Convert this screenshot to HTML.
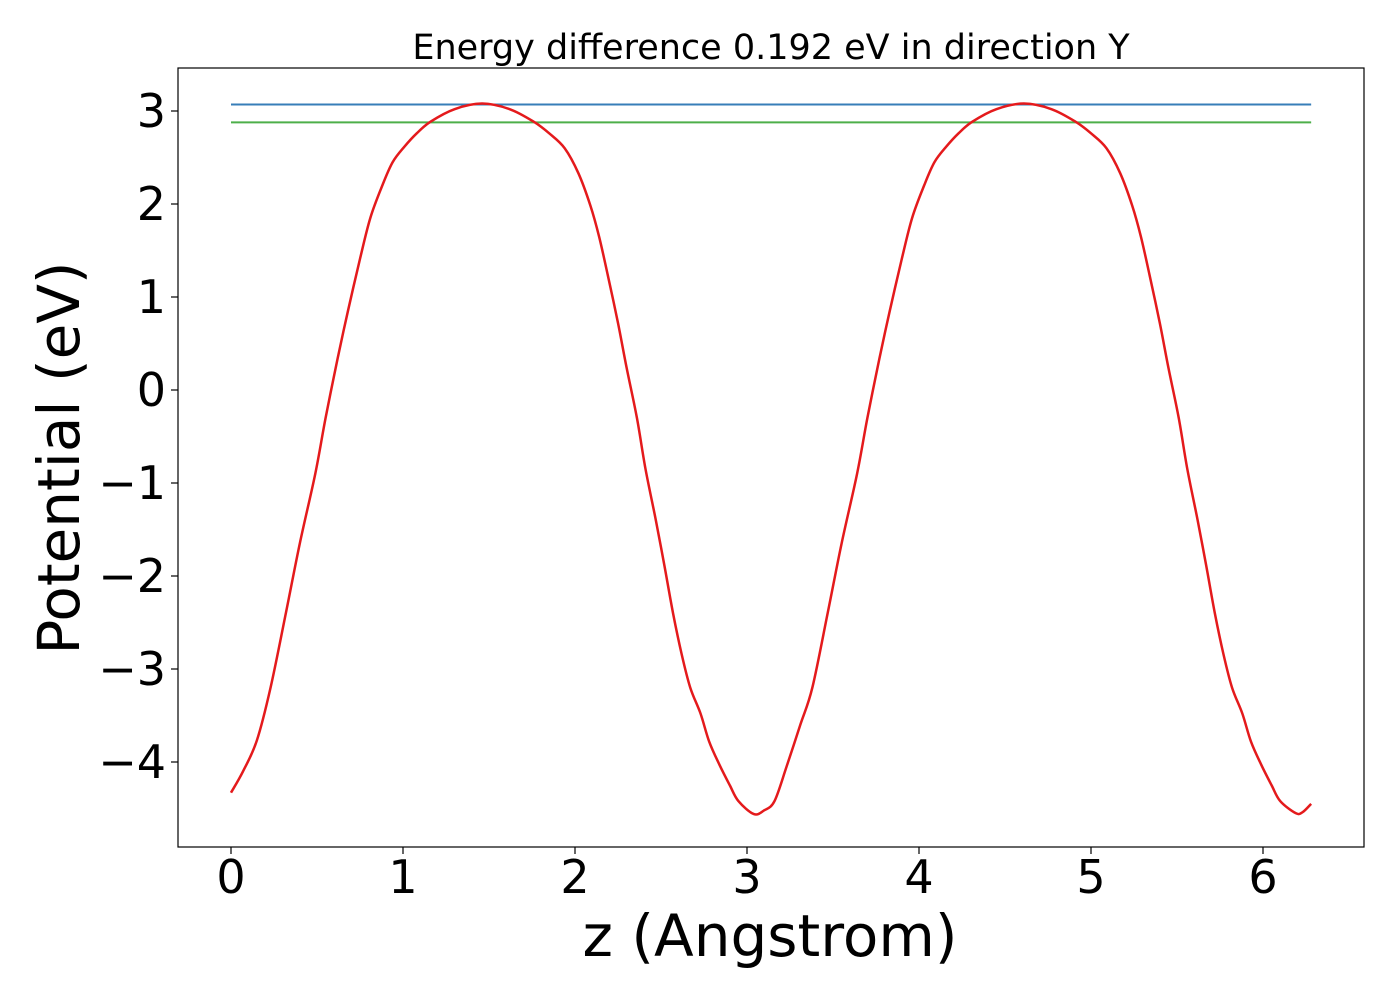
<!DOCTYPE html>
<html><head><meta charset="utf-8"><style>
body{margin:0;background:#fff}
svg text{font-family:"DejaVu Sans","Liberation Sans",sans-serif;fill:#000}
</style></head><body>
<svg width="1400" height="1000" xmlns="http://www.w3.org/2000/svg">
<g id="plot"></g>
</svg>
<script>
const xs=[0,0.07,0.15,0.23,0.32,0.4,0.49,0.55,0.62,0.68,0.75,0.81,0.88,0.94,1.01,1.08,1.16,1.3,1.46,1.62,1.76,1.85,1.94,2.02,2.09,2.14,2.19,2.25,2.30,2.36,2.41,2.47,2.52,2.57,2.62,2.67,2.73,2.78,2.84,2.9,2.95,3.04,3.1,3.16,3.23,3.31,3.38,3.47,3.55,3.64,3.7,3.77,3.83,3.9,3.96,4.03,4.09,4.16,4.23,4.31,4.45,4.61,4.77,4.91,5.0,5.09,5.17,5.24,5.29,5.34,5.4,5.45,5.51,5.56,5.62,5.67,5.72,5.77,5.82,5.88,5.93,5.99,6.05,6.1,6.19,6.23,6.28];
const ys=[-4.33,-4.1,-3.77,-3.2,-2.39,-1.65,-0.9,-0.3,0.34,0.85,1.41,1.85,2.2,2.45,2.62,2.76,2.885,3.02,3.08,3.02,2.885,2.76,2.6,2.33,1.98,1.65,1.24,0.72,0.24,-0.3,-0.85,-1.4,-1.89,-2.4,-2.84,-3.2,-3.48,-3.78,-4.03,-4.25,-4.42,-4.56,-4.52,-4.42,-4.05,-3.6,-3.2,-2.39,-1.65,-0.9,-0.3,0.34,0.85,1.41,1.85,2.2,2.45,2.62,2.76,2.885,3.02,3.08,3.02,2.885,2.76,2.6,2.33,1.98,1.65,1.24,0.72,0.24,-0.3,-0.85,-1.4,-1.89,-2.4,-2.84,-3.2,-3.48,-3.78,-4.03,-4.25,-4.42,-4.55,-4.54,-4.45];
const blueLevel=[3.07];
const greenLevel=[2.878];
const xTicks=[0,1,2,3,4,5,6];
const yTicks=[3,2,1,0,-1,-2,-3,-4];
const L=178,R=1364,T=68,B=847;
const X=v=>231+v*172;
const Y=v=>390-v*93;
const g=document.getElementById('plot');
const NS='http://www.w3.org/2000/svg';
function mk(t,a,txt){const e=document.createElementNS(NS,t);for(const k in a)e.setAttribute(k,a[k]);if(txt!==undefined)e.textContent=txt;g.appendChild(e);return e;}
let e;
e=mk('rect',{x:L,y:T,width:R-L,height:B-T,fill:'#fff',stroke:'#000','stroke-width':1.2});


xTicks.forEach(t=>{
 e=mk('line',{x1:X(t),x2:X(t),y1:B,y2:B+7,stroke:'#000','stroke-width':1.2});
 
 
 e=mk('text',{x:X(t),y:B+46,'font-size':46,'text-anchor':'middle'},String(t));
 
 
});
yTicks.forEach(t=>{
 e=mk('line',{x1:L-7,x2:L,y1:Y(t),y2:Y(t),stroke:'#000','stroke-width':1.2});
 
 
 e=mk('text',{x:L-12,y:Y(t)+16,'font-size':46,'text-anchor':'end'},(t<0?'\u2212'+(-t):String(t)));
 
 
});
const x0=X(0),x1=X(xs[xs.length-1]);
e=mk('line',{x1:x0,x2:x1,y1:Y(blueLevel[0]),y2:Y(blueLevel[0]),stroke:'#377eb8','stroke-width':2});


e=mk('line',{x1:x0,x2:x1,y1:Y(greenLevel[0]),y2:Y(greenLevel[0]),stroke:'#4daf4a','stroke-width':2});


const P=xs.map((x,i)=>[X(x),Y(ys[i])]);
let d='M'+P[0][0]+','+P[0][1];
for(let i=0;i<P.length-1;i++){
 const p0=P[Math.max(0,i-1)],p1=P[i],p2=P[i+1],p3=P[Math.min(P.length-1,i+2)];
 const c1=[p1[0]+(p2[0]-p0[0])/6,p1[1]+(p2[1]-p0[1])/6];
 const c2=[p2[0]-(p3[0]-p1[0])/6,p2[1]-(p3[1]-p1[1])/6];
 d+=' C'+c1.join(',')+' '+c2.join(',')+' '+p2.join(',');
}
e=mk('path',{d:d,fill:'none',stroke:'#e41a1c','stroke-width':2.5});


e=mk('text',{x:771,y:59,'font-size':35,'text-anchor':'middle'},'Energy difference 0.192 eV in direction Y');


e=mk('text',{x:770,y:956,'font-size':58,'text-anchor':'middle'},'z (Angstrom)');


e=mk('text',{x:0,y:0,'font-size':58,'text-anchor':'middle',transform:'translate(79,458) rotate(-90)'},'Potential (eV)');


</script>
</body></html>
